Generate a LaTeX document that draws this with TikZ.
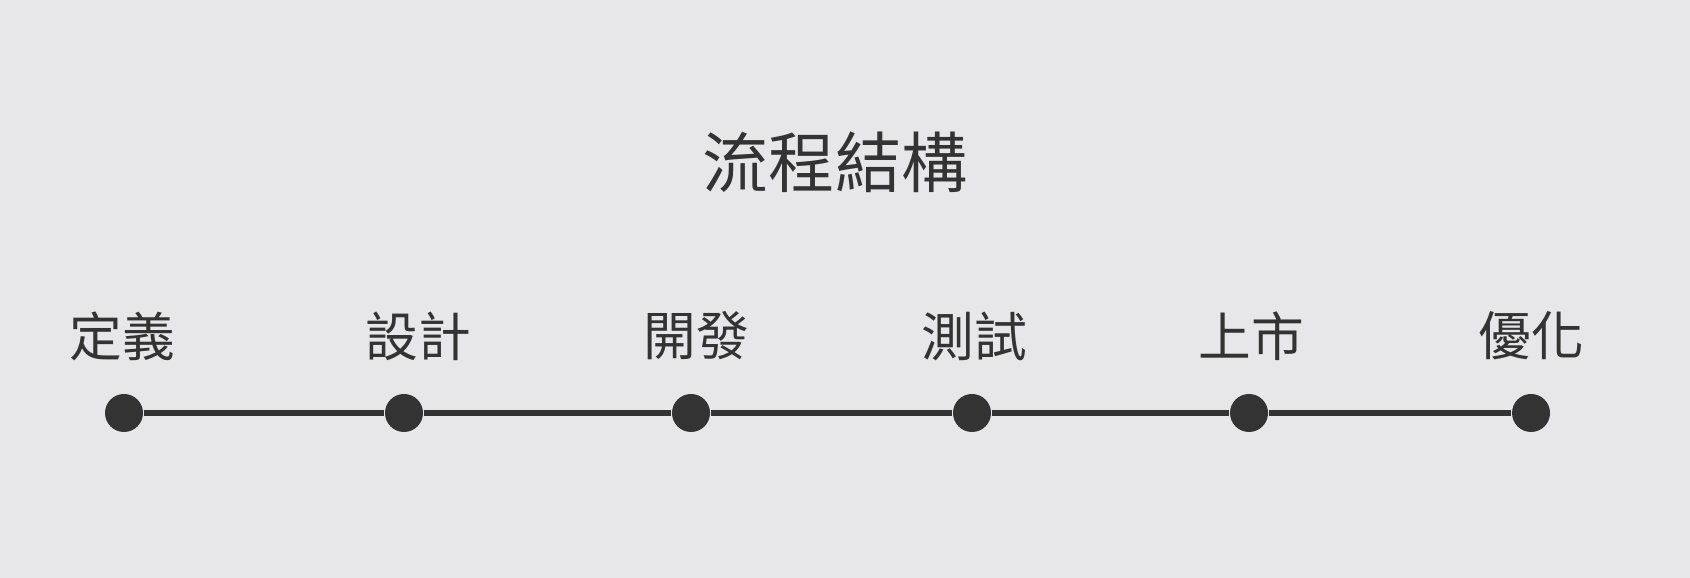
\documentclass[tikz,border=0pt]{standalone}
\usepackage{fontspec}
\newfontfamily\cjk{Noto Sans CJK TC}
\usepackage{tikz}
\usetikzlibrary{calc}
\definecolor{bgGray}{HTML}{E7E7E9}
\definecolor{dotGray}{HTML}{333333}
\tikzset{
	stepdot/.style={circle, fill=dotGray, minimum size=0.38cm, inner sep=0pt},
	steplabel/.style={text=dotGray, font=\cjk\fontsize{15}{18}\selectfont, inner sep=0pt},
	timeline/.style={draw=dotGray, line width=1.8pt}
}

\begin{document}
\begin{tikzpicture}

	\fill[bgGray] (0,0) rectangle (16.9,5.78);
	\useasboundingbox (0,0) rectangle (16.9,5.78);

	\node[text=dotGray, font=\cjk\fontsize{18.8}{22}\selectfont, inner sep=0pt] (title) at (8.35,4.16) {流程結構};

	\node[stepdot] (d1) at (1.24,1.65) {};
	\node[stepdot] (d2) at (4.04,1.65) {};
	\node[stepdot] (d3) at (6.91,1.65) {};
	\node[stepdot] (d4) at (9.72,1.65) {};
	\node[stepdot] (d5) at (12.49,1.65) {};
	\node[stepdot] (d6) at (15.31,1.65) {};

	\draw[timeline] (d1) -- (d2);
	\draw[timeline] (d2) -- (d3);
	\draw[timeline] (d3) -- (d4);
	\draw[timeline] (d4) -- (d5);
	\draw[timeline] (d5) -- (d6);

	\node[steplabel] (l1) at ($ (d1)+(-0.02,0.77) $) {定義};
	\node[steplabel] (l2) at ($ (d2)+(0.14,0.77) $) {設計};
	\node[steplabel] (l3) at ($ (d3)+(0.05,0.77) $) {開發};
	\node[steplabel] (l4) at ($ (d4)+(0.02,0.77) $) {測試};
	\node[steplabel] (l5) at ($ (d5)+(0.02,0.77) $) {上市};
	\node[steplabel] (l6) at ($ (d6)+(0,0.77) $) {優化};

\end{tikzpicture}
\end{document}
